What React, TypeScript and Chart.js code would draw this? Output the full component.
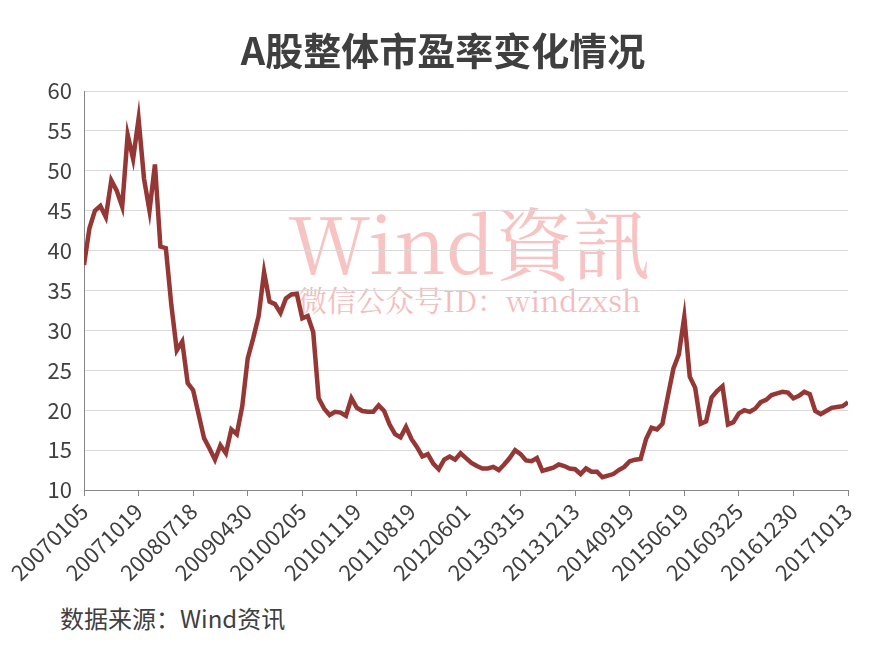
import React, { useEffect, useRef } from 'react';
import { Chart, registerables } from 'chart.js';

Chart.register(...registerables);

const chartTitle = 'A股整体市盈率变化情况';
const sourceText = '数据来源：Wind资讯';
const watermarkMain = 'Wind資訊';
const watermarkSub = '微信公众号ID：windzxsh';

// one x-axis label every 10 points
const tickLabels = [
  '20070105', '20071019', '20080718', '20090430', '20100205',
  '20101119', '20110819', '20120601', '20130315', '20131213',
  '20140919', '20150619', '20160325', '20161230', '20171013',
];
const pointsPerLabel = 10;

// A股整体市盈率 (PE), sampled roughly every 4 weeks
const peValues = [
  38.2, 42.8, 45.0, 45.6, 44.2, 48.8, 47.5, 45.5, 54.5, 51.5,
  56.5, 49.0, 45.0, 50.8, 40.5, 40.3, 33.2, 27.5, 28.6, 23.4,
  22.5, 19.5, 16.5, 15.2, 13.8, 15.6, 14.6, 17.6, 17.0, 20.5,
  26.5, 29.0, 31.8, 37.3, 33.6, 33.3, 32.2, 34.0, 34.5, 34.6,
  31.5, 31.8, 29.8, 21.5, 20.2, 19.4, 19.8, 19.7, 19.3, 21.5,
  20.3, 19.9, 19.8, 19.8, 20.6, 19.9, 18.2, 17.0, 16.6, 17.9,
  16.4, 15.4, 14.2, 14.5, 13.3, 12.6, 13.8, 14.2, 13.8, 14.6,
  14.0, 13.4, 13.0, 12.7, 12.7, 12.9, 12.5, 13.2, 14.0, 15.0,
  14.5, 13.7, 13.6, 14.0, 12.4, 12.6, 12.8, 13.2, 13.0, 12.7,
  12.6, 12.0, 12.7, 12.3, 12.3, 11.6, 11.8, 12.0, 12.5, 12.9,
  13.6, 13.8, 13.9, 16.4, 17.8, 17.6, 18.3, 21.8, 25.2, 27.0,
  31.7, 24.2, 22.8, 18.3, 18.6, 21.6, 22.4, 23.0, 18.2, 18.5,
  19.6, 20.0, 19.8, 20.2, 21.0, 21.3, 21.9, 22.1, 22.3, 22.2,
  21.5, 21.8, 22.3, 22.0, 19.9, 19.5, 19.9, 20.3, 20.4, 20.5,
  21.0,
];

const yMin = 10;
const yMax = 60;
const yStep = 5;

const textColor = '#404040';
const lineColor = '#953735';
const tickFont = { family: '"Noto Sans CJK SC", "Noto Sans", sans-serif', size: 22 };
const serifStack = '"Noto Serif CJK SC", "Liberation Serif", "DejaVu Serif", serif';

export default function App() {
  const canvasRef = useRef<HTMLCanvasElement>(null);

  useEffect(() => {
    if (!canvasRef.current) return;
    const lastIndex = (tickLabels.length - 1) * pointsPerLabel;
    const chart = new Chart(canvasRef.current, {
      type: 'line',
      data: {
        datasets: [
          {
            data: peValues.map((y, i) => ({ x: i, y })),
            borderColor: lineColor,
            borderWidth: 4.5,
            pointRadius: 0,
            tension: 0,
            fill: false,
          },
        ],
      },
      options: {
        responsive: false,
        animation: false,
        layout: { padding: { top: 91, right: 38, left: 0, bottom: 0 } },
        plugins: {
          legend: { display: false },
          tooltip: { enabled: false },
        },
        scales: {
          x: {
            type: 'linear',
            min: 0,
            max: lastIndex,
            afterBuildTicks: (scale: any) => {
              scale.ticks = tickLabels.map((_, k) => ({ value: k * pointsPerLabel }));
            },
            afterFit: (scale: any) => {
              scale.height = 110;
            },
            ticks: {
              autoSkip: false,
              maxRotation: 45,
              minRotation: 45,
              padding: 2,
              color: textColor,
              font: tickFont,
              callback: (v: any) => tickLabels[Math.round(Number(v) / pointsPerLabel)],
            },
            grid: {
              drawOnChartArea: false,
              drawTicks: true,
              tickLength: 6,
              color: '#868686',
            },
            border: { color: '#868686', width: 1 },
          },
          y: {
            min: yMin,
            max: yMax,
            afterFit: (scale: any) => {
              scale.width = 84;
            },
            ticks: {
              stepSize: yStep,
              padding: 12,
              color: textColor,
              font: tickFont,
            },
            grid: { color: '#d9d9d9', drawTicks: false },
            border: { color: '#868686', width: 1 },
          },
        },
      },
    });
    return () => chart.destroy();
  }, []);

  return (
    <div
      style={{
        position: 'fixed',
        left: 0,
        top: 0,
        width: 886,
        height: 651,
        background: '#ffffff',
        overflow: 'hidden',
      }}
    >
      <div
        style={{
          position: 'absolute',
          left: 288,
          top: 201,
          fontFamily: serifStack,
          fontSize: 78,
          lineHeight: 1,
          color: '#f8c3c3',
          whiteSpace: 'nowrap',
        }}
      >
        {watermarkMain}
      </div>
      <div
        style={{
          position: 'absolute',
          left: 298,
          top: 285,
          fontFamily: serifStack,
          fontSize: 29,
          lineHeight: 1,
          color: '#f5bcbc',
          whiteSpace: 'nowrap',
        }}
      >
        {watermarkSub}
      </div>
      <canvas
        ref={canvasRef}
        width={886}
        height={600}
        style={{ position: 'absolute', left: 0, top: 0, width: 886, height: 600 }}
      />
      <div
        style={{
          position: 'absolute',
          left: 0,
          top: 30,
          width: 886,
          textAlign: 'center',
          fontFamily: '"Noto Sans CJK SC", sans-serif',
          fontWeight: 'bold',
          fontSize: 38,
          lineHeight: 1,
          color: '#3f3f3f',
        }}
      >
        {chartTitle}
      </div>
      <div
        style={{
          position: 'absolute',
          left: 60,
          top: 606,
          fontFamily: '"Noto Sans CJK SC", sans-serif',
          fontSize: 24,
          lineHeight: 1,
          color: textColor,
          whiteSpace: 'nowrap',
        }}
      >
        {sourceText}
      </div>
    </div>
  );
}
